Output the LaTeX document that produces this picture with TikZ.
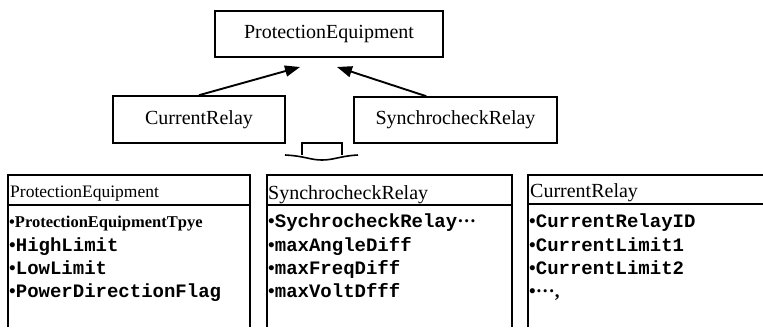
\documentclass[tikz,border=0pt]{standalone}
\usepackage{fontspec}
\setmainfont{Liberation Serif}
\newfontfamily\itemfont{Liberation Mono}
\usetikzlibrary{arrows.meta,calc}
\newcommand\mybul{{\rmfamily\textbullet}}
\begin{document}
\begin{tikzpicture}[x=1pt,y=-1pt,
  box/.style={draw, line width=1.6pt, inner sep=0pt, font=\fontsize{20}{24}\selectfont},
  hdr/.style={anchor=base west, inner sep=0pt, font=\fontsize{20}{24}\selectfont},
  item/.style={anchor=base west, inner sep=0pt, font=\itemfont\bfseries\fontsize{19}{21}\selectfont},
  frame/.style={line width=1.6pt},
  arr/.style={line width=1.9pt, -{Triangle[length=15pt,width=11pt]}}]
\useasboundingbox[fill=white] (0,0) rectangle (763,327);
% class boxes
\node[box, minimum width=228pt, minimum height=46pt] (pe) at (329,34) {ProtectionEquipment};
\node[box, minimum width=172pt, minimum height=47pt] (cr) at (199,119.5) {CurrentRelay};
\node[box, minimum width=203pt, minimum height=46pt] (sr) at (455.5,120) {SynchrocheckRelay};
% generalization arrows
\coordinate (t1) at (300,67);
\coordinate (t2) at (337,67);
\coordinate (s2) at ($(sr.north west)+(73,0)$);
\draw[arr] (cr.north) -- (t1);
\draw[arr] (s2) -- (t2);
% small open-arrow symbol
\draw[frame] (302,155) -- (302,143) -- (342,143) -- (342,155);
\draw[frame] (285,155) .. controls (305,156) and (310,160) .. (322,160) .. controls (334,160) and (340,156) .. (358,155);
% tables
\draw[frame] (8,327) -- (8,175) -- (250,175) -- (250,327);
\draw[frame] (8,205) -- (250,205);
\draw[frame] (267,327) -- (267,175) -- (512,175) -- (512,327);
\draw[frame] (267,205) -- (512,205);
\draw[frame] (528,327) -- (528,175) -- (765,175);
\draw[frame] (528,204) -- (765,204);
% headers
\node[hdr, font=\fontsize{17.5}{20}\selectfont] (h1) at (10,197) {ProtectionEquipment};
\node[hdr] (h2) at (268,199) {SynchrocheckRelay};
\node[hdr] (h3) at (530,197) {CurrentRelay};
% left items
\node[item, font=\rmfamily\bfseries\fontsize{16.5}{18}\selectfont] (l1) at (9,227) {\mybul ProtectionEquipmentTpye};
\node[item] (l2) at (9,251) {\mybul HighLimit};
\node[item] (l3) at (9,274) {\mybul LowLimit};
\node[item] (l4) at (9,297) {\mybul PowerDirectionFlag};
% middle items
\node[item] (m1) at (268,227) {\mybul SychrocheckRelay{\rmfamily ···}};
\node[item] (m2) at (268,251) {\mybul maxAngleDiff};
\node[item] (m3) at (268,274) {\mybul maxFreqDiff};
\node[item] (m4) at (268,297) {\mybul maxVoltDfff};
% right items
\node[item] (r1) at (529,227) {\mybul CurrentRelayID};
\node[item] (r2) at (529,251) {\mybul CurrentLimit1};
\node[item] (r3) at (529,274) {\mybul CurrentLimit2};
\node[item] (r4) at (529,297) {\mybul{\rmfamily ···,}};
\end{tikzpicture}
\end{document}
